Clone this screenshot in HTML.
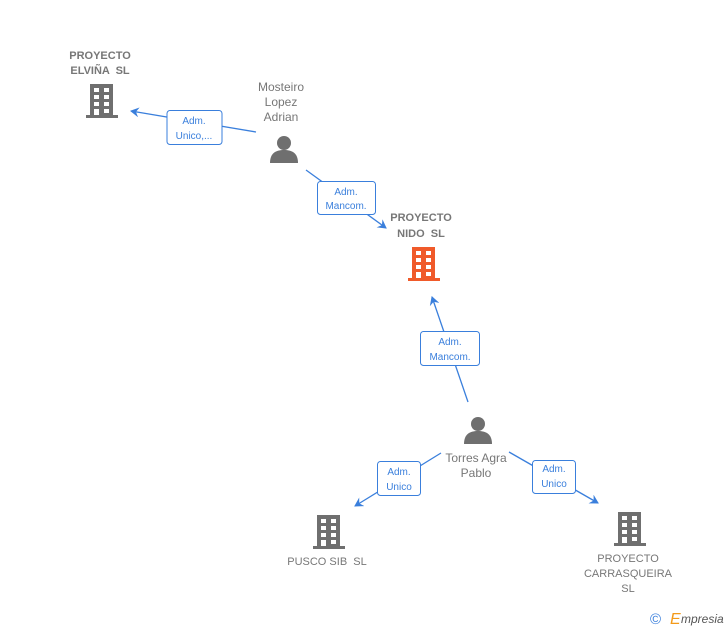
<!DOCTYPE html>
<html><head><meta charset="utf-8"><style>
body{margin:0;background:#fff;}
svg text{font-family:"Liberation Sans",sans-serif;white-space:pre;}
</style></head><body>
<svg width="728" height="630" viewBox="0 0 728 630" xmlns="http://www.w3.org/2000/svg" xml:space="preserve">
<defs>
<g id="bld">
<rect x="4" y="0" width="23" height="32"/>
<rect x="0" y="31" width="32" height="3"/>
<g fill="#fff">
<rect x="8" y="4" width="5" height="4"/><rect x="18" y="4" width="5" height="4"/>
<rect x="8" y="11" width="5" height="4"/><rect x="18" y="11" width="5" height="4"/>
<rect x="8" y="18" width="5" height="4"/><rect x="18" y="18" width="5" height="4"/>
<rect x="8" y="25" width="5" height="6"/><rect x="18" y="25" width="5" height="4"/>
</g>
</g>
<g id="per">
<circle cx="14" cy="8" r="7"/>
<path d="M0 28 C0 18 6 15 14 15 C22 15 28 18 28 28 Z"/>
</g>
<marker id="ar" markerWidth="10" markerHeight="10" refX="8" refY="5" orient="auto" markerUnits="userSpaceOnUse">
<path d="M0 0 L9 5 L0 10 L3 5 Z" fill="#3a7fdc"/>
</marker>
</defs>
<g stroke="#3a7fdc" stroke-width="1.3" fill="none">
<line x1="256" y1="132" x2="131" y2="111" marker-end="url(#ar)"/>
<line x1="306" y1="170" x2="386" y2="228" marker-end="url(#ar)"/>
<line x1="468" y1="402" x2="432" y2="297" marker-end="url(#ar)"/>
<line x1="441" y1="453" x2="355" y2="506" marker-end="url(#ar)"/>
<line x1="509" y1="452" x2="598" y2="503" marker-end="url(#ar)"/>
</g>
<g fill="#fff" stroke="#3a7fdc" stroke-width="1">
<rect x="167" y="110.5" width="55" height="34" rx="3"/>
<rect x="317.5" y="181.5" width="58" height="33" rx="3"/>
<rect x="420.5" y="331.5" width="59" height="34" rx="3"/>
<rect x="377.5" y="461.5" width="43" height="34" rx="3"/>
<rect x="532.5" y="460.5" width="43" height="33" rx="3"/>
</g>
<g fill="#3a7fdc" font-size="10" text-anchor="middle">
<text x="194" y="124">Adm.</text><text x="194" y="139">Unico,...</text>
<text x="346" y="195">Adm.</text><text x="346" y="209">Mancom.</text>
<text x="450" y="345">Adm.</text><text x="450" y="360">Mancom.</text>
<text x="399" y="475">Adm.</text><text x="399" y="490">Unico</text>
<text x="554" y="472">Adm.</text><text x="554" y="487">Unico</text>
</g>
<use href="#bld" x="86" y="84" fill="#6f6f6f"/>
<use href="#bld" x="408" y="247" fill="#f05a2a"/>
<use href="#bld" x="313" y="515" fill="#6f6f6f"/>
<use href="#bld" x="614" y="512" fill="#6f6f6f"/>
<use href="#per" x="270" y="135" fill="#6f6f6f"/>
<use href="#per" x="464" y="416" fill="#6f6f6f"/>
<g fill="#777" font-size="11" font-weight="bold" text-anchor="middle">
<text x="100" y="59">PROYECTO</text><text x="100" y="74">ELVIÑA  SL</text>
<text x="421" y="221">PROYECTO</text><text x="421" y="237">NIDO  SL</text>
</g>
<g fill="#777" font-size="11" text-anchor="middle">
<text x="327" y="565">PUSCO SIB  SL</text>
<text x="628" y="562">PROYECTO</text><text x="628" y="577">CARRASQUEIRA</text><text x="628" y="592">SL</text>
</g>
<g fill="#777" font-size="12" text-anchor="middle">
<text x="281" y="91">Mosteiro</text><text x="281" y="106">Lopez</text><text x="281" y="121">Adrian</text>
<text x="476" y="462">Torres Agra</text><text x="476" y="477">Pablo</text>
</g>
<text x="650" y="624" fill="#3a7fdc" font-size="15">©</text>
<text x="670" y="624" fill="#f39a1a" font-size="16" font-style="italic" font-family="Liberation Serif,serif">E</text>
<text x="681" y="623" fill="#555" font-size="12" font-style="italic">mpresia</text>
</svg>
</body></html>
